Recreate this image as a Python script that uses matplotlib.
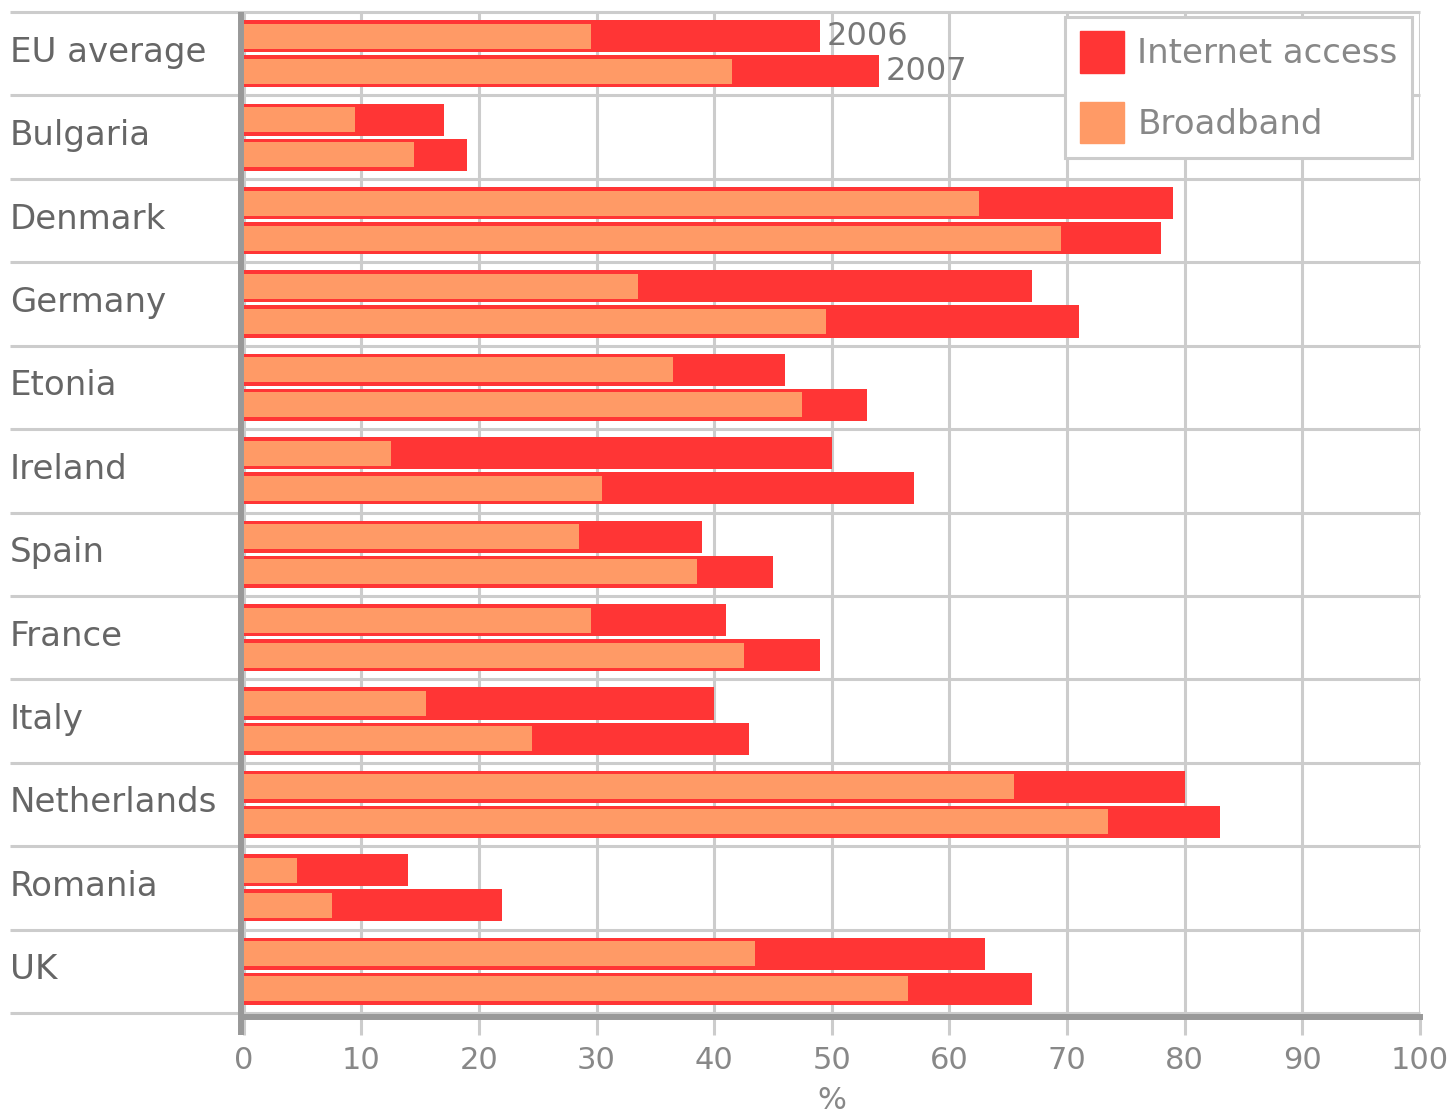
import numpy as np
import matplotlib.pyplot as plt
from matplotlib.transforms import blended_transform_factory, ScaledTranslation

countries = ["EU average", "Bulgaria", "Denmark", "Germany", "Etonia", "Ireland",
             "Spain", "France", "Italy", "Netherlands", "Romania", "UK"]
internet_2006 = [49, 17, 79, 67, 46, 50, 39, 41, 40, 80, 14, 63]
broadband_2006 = [29.5, 9.5, 62.5, 33.5, 36.5, 12.5, 28.5, 29.5, 15.5, 65.5, 4.5, 43.5]
internet_2007 = [54, 19, 78, 71, 53, 57, 45, 49, 43, 83, 22, 67]
broadband_2007 = [41.5, 14.5, 69.5, 49.5, 47.5, 30.5, 38.5, 42.5, 24.5, 73.5, 7.5, 56.5]
xticks = list(range(0, 101, 10))

RED = "#ff3535"
ORANGE = "#ff9a66"
GRID = "#cccccc"
AXIS = "#999999"

W, H = 1453, 1116
fig = plt.figure(figsize=(W / 100, H / 100), dpi=100)
ax = fig.add_axes([243.6 / W, 1 - 1013 / H, (1420 - 243.6) / W, (1013 - 12) / H])

y = np.arange(len(countries))
off = 0.21
ax.barh(y - off, internet_2006, height=0.385, color=RED, zorder=3)
ax.barh(y - off, broadband_2006, height=0.30, color=ORANGE, zorder=4)
ax.barh(y + off, internet_2007, height=0.385, color=RED, zorder=3)
ax.barh(y + off, broadband_2007, height=0.30, color=ORANGE, zorder=4)

ax.set_xlim(0, 100)
ax.set_ylim(len(countries) - 0.5, -0.5)

# vertical grid + ticks
ax.set_xticks(xticks)
ax.xaxis.grid(True, color=GRID, linewidth=2.2, zorder=0)
ax.tick_params(axis="x", direction="out", length=13, width=2.2, color=GRID,
               labelsize=22, labelcolor="#888888", pad=8)
ax.set_xlabel("%", fontsize=22, color="#888888", labelpad=8)

# category labels on the far left, nudged a little above the band centre
ax.set_yticks(y)
ax.set_yticklabels(countries, fontsize=24.5, color="#666666", ha="left")
ax.tick_params(axis="y", length=0, pad=(243.6 - 10) * 0.72)
lift = ScaledTranslation(0, 5 / 100, fig.dpi_scale_trans)
for lab in ax.get_yticklabels():
    lab.set_transform(lab.get_transform() + lift)

# separators between categories, running under the labels
trans = blended_transform_factory(ax.transAxes, ax.transData)
x0 = -(243.6 - 10) / (1420 - 243.6)
for b in np.arange(-0.5, len(countries), 1.0):
    ax.plot([x0, 1], [b, b], color=GRID, linewidth=2.2, transform=trans,
            clip_on=False, zorder=1, solid_capstyle="butt")

for s in ["top", "right", "left"]:
    ax.spines[s].set_visible(False)
ax.spines["bottom"].set_color(AXIS)
ax.spines["bottom"].set_linewidth(4.3)
ax.spines["bottom"].set_position(("outward", 3))

# thick left axis line extending below the plot
ax.plot([-0.002, -0.002], [1, -0.022], color=AXIS, linewidth=4.3,
        transform=ax.transAxes, clip_on=False, zorder=5, solid_capstyle="butt")

# year markers next to the EU average bars
ax.annotate("2006", xy=(internet_2006[0], y[0] - off), xytext=(5, 0),
            textcoords="offset points", va="center", ha="left",
            fontsize=23, color="#777777")
ax.annotate("2007", xy=(internet_2007[0], y[0] + off), xytext=(5, 0),
            textcoords="offset points", va="center", ha="left",
            fontsize=23, color="#777777")

handles = [plt.Rectangle((0, 0), 1, 1, color=RED),
           plt.Rectangle((0, 0), 1, 1, color=ORANGE)]
leg = fig.legend(handles, ["Internet access", "Broadband"],
                 loc="upper right", bbox_to_anchor=(1412 / W, 1 - 17 / H),
                 bbox_transform=fig.transFigure, borderaxespad=0,
                 fontsize=24.5, handlelength=1.3, handleheight=1.5,
                 handletextpad=0.4, labelspacing=0.85, borderpad=0.42,
                 fancybox=False, framealpha=1, edgecolor=GRID,
                 labelcolor="#888888")
leg.get_frame().set_linewidth(2.2)

fig.savefig("out.png", dpi=100, facecolor="white")
